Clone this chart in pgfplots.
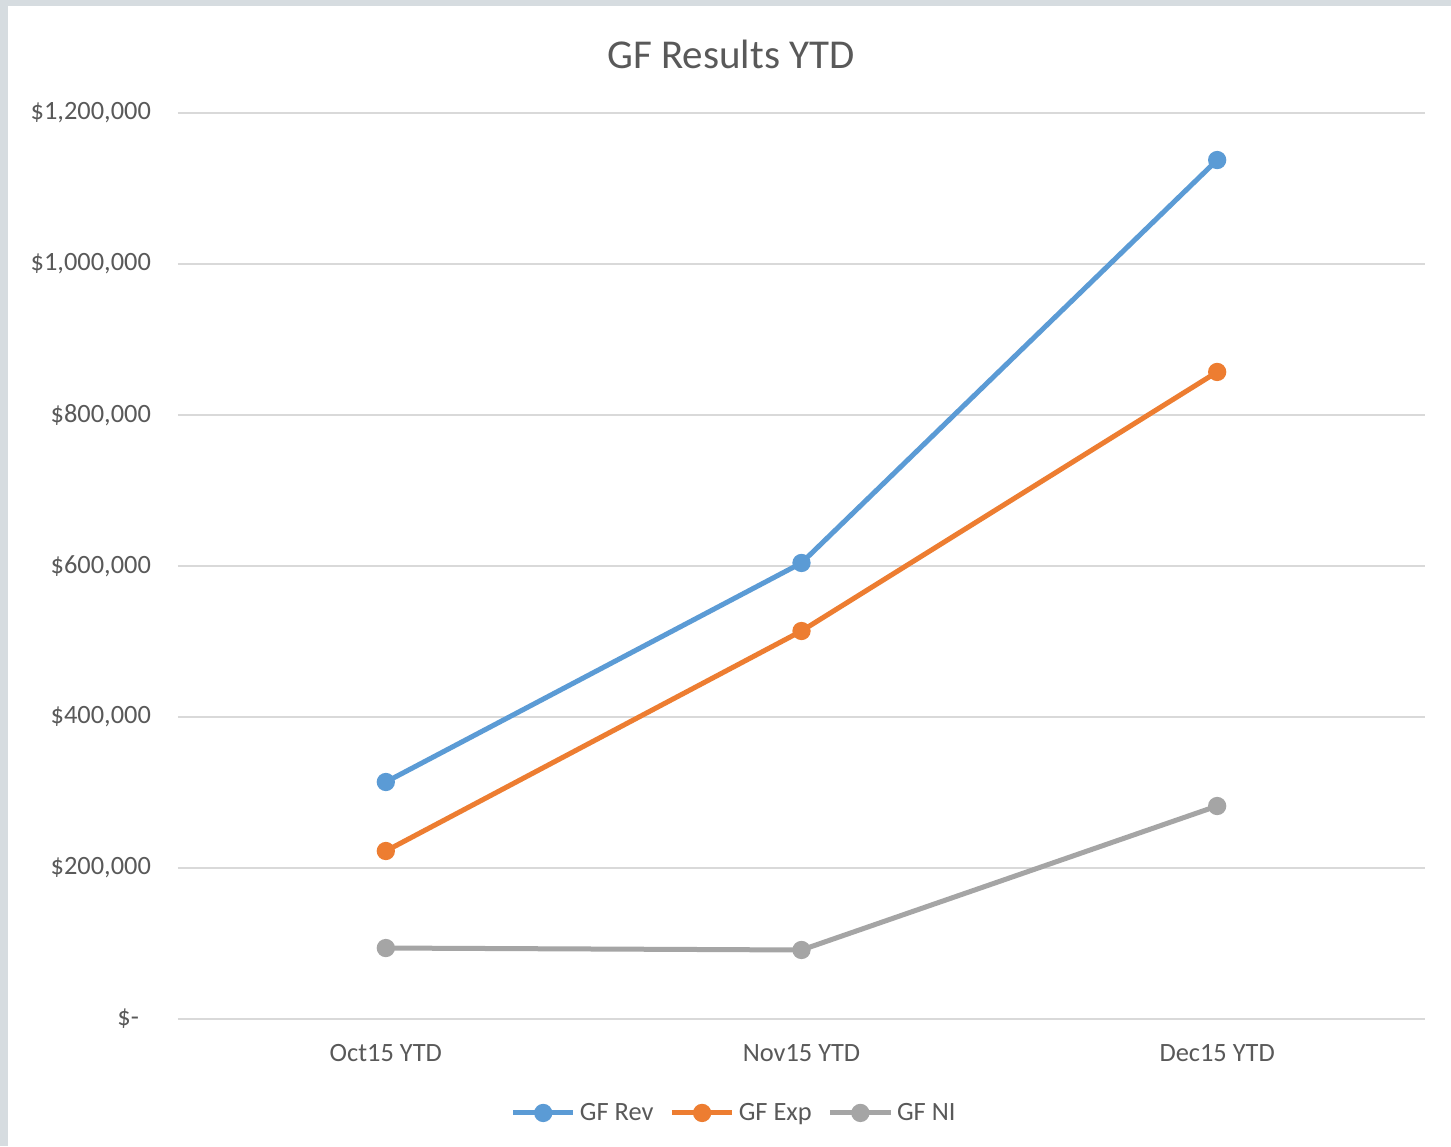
\documentclass[border=0pt]{standalone}
\usepackage{fontspec}
\setmainfont{Carlito}
\usepackage{pgfplots}
\pgfplotsset{compat=1.18}

\definecolor{revblue}{HTML}{5B9BD5}
\definecolor{exporange}{HTML}{ED7D31}
\definecolor{nigray}{HTML}{A5A5A5}
\definecolor{gridgray}{HTML}{D9D9D9}
\definecolor{textgray}{HTML}{595959}
\definecolor{bggray}{HTML}{D6DCE0}

\begin{document}
\begin{tikzpicture}
% background frame: 1 px = 0.5pt, axis origin at (178px,1019px) of the reference
\fill[bggray] (-89pt,-63.5pt) rectangle (636.5pt,509.5pt);
\fill[white] (-85pt,-63.5pt) rectangle (636.5pt,506.5pt);
\node[text=textgray, font=\fontsize{20.5}{22}\selectfont] at (276.5pt,482.5pt) {GF Results YTD};
\begin{axis}[
    at={(0pt,0pt)}, anchor=south west,
    scale only axis, width=623.5pt, height=453pt,
    xmin=-0.5, xmax=2.5, ymin=0, ymax=1200000,
    xtick={0,1,2}, xticklabels={Oct15 YTD, Nov15 YTD, Dec15 YTD},
    ytick={0,200000,400000,600000,800000,1000000,1200000},
    yticklabels={{\$-\kern6pt},{\$200,000},{\$400,000},{\$600,000},{\$800,000},{\$1,000,000},{\$1,200,000}},
    scaled y ticks=false,
    major tick length=0pt,
    axis line style={draw=none},
    ymajorgrids, grid style={gridgray, line width=0.9pt},
    tick label style={text=textgray, font=\fontsize{13.2}{15}\selectfont},
    xticklabel style={yshift=-9pt},
    yticklabel style={xshift=-10pt},
    legend style={at={(axis description cs:0.4467,-0.1037)}, anchor=center, draw=none,
        font=\fontsize{13.2}{15}\selectfont, text=textgray,
        /tikz/every even column/.append style={column sep=6pt}},
    legend columns=3,
    legend cell align=left,
    legend image code/.code={%
        \draw[mark repeat=2,mark phase=2] plot coordinates {(0cm,0cm) (0.53cm,0cm) (1.06cm,0cm)};},
    every axis plot/.append style={line width=2.5pt, mark=*, mark size=3.3pt},
]
\addplot[color=revblue] coordinates {(0,313900) (1,604000) (2,1137700)};
\addplot[color=exporange] coordinates {(0,222500) (1,513900) (2,857000)};
\addplot[color=nigray] coordinates {(0,94000) (1,91400) (2,282100)};
\legend{GF Rev, GF Exp, GF NI}
\end{axis}
\end{tikzpicture}
\end{document}
